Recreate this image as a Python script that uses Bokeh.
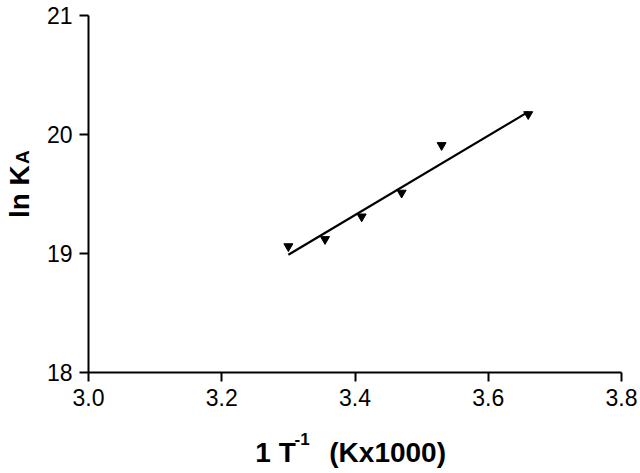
from bokeh.plotting import figure
from bokeh.models import Range1d, FixedTicker, NumeralTickFormatter, LinearAxis
from bokeh.embed import file_html
from bokeh.resources import INLINE

# ---- data ----
inv_temp = [3.30, 3.355, 3.41, 3.47, 3.53, 3.66]
ln_ka = [19.06, 19.12, 19.31, 19.51, 19.91, 20.17]
fit_x = [3.30, 3.66]
fit_y = [18.99, 20.19]
x_ticks = [3.0, 3.2, 3.4, 3.6, 3.8]
y_ticks = [18, 19, 20, 21]
x_title_main = "1 T"
x_title_sup = "-1"
x_title_unit = "(Kx1000)"
y_title_main = "ln K"
y_title_sub = "A"

FONT = "Liberation Sans"

p = figure(width=640, height=473, output_backend="svg", toolbar_location=None,
           x_range=Range1d(3.0, 3.8), y_range=Range1d(18, 21),
           min_border_left=88, min_border_right=19, min_border_top=15, min_border_bottom=101)
p.outline_line_color = None
p.xgrid.visible = False
p.ygrid.visible = False
p.background_fill_color = "white"
p.border_fill_color = "white"

for ax in (p.xaxis[0], p.yaxis[0]):
    ax.axis_line_color = "black"
    ax.axis_line_width = 2
    ax.major_tick_line_color = "black"
    ax.major_tick_line_width = 2
    ax.major_tick_out = 9
    ax.major_tick_in = 0
    ax.minor_tick_line_color = None
    ax.major_label_text_font = FONT
    ax.major_label_text_font_size = "23px"
    ax.major_label_text_color = "black"
    ax.axis_label = None

p.xaxis[0].ticker = FixedTicker(ticks=x_ticks)
p.xaxis[0].formatter = NumeralTickFormatter(format="0.0")
p.xaxis[0].major_label_standoff = 7
p.yaxis[0].ticker = FixedTicker(ticks=y_ticks)
p.yaxis[0].formatter = NumeralTickFormatter(format="0")
p.yaxis[0].major_label_standoff = 7


def title_axis(where, labels, size, standoff, orientation="horizontal"):
    """An axis that carries only text pieces of an axis title."""
    ticks = list(labels.keys())
    ax = LinearAxis(ticker=FixedTicker(ticks=ticks), major_label_overrides=labels,
                    axis_line_color=None, major_tick_line_color=None,
                    minor_tick_line_color=None, major_tick_out=0, major_tick_in=0,
                    minor_tick_out=0, minor_tick_in=0,
                    major_label_standoff=standoff,
                    major_label_orientation=orientation,
                    major_label_text_font=FONT, major_label_text_font_style="bold",
                    major_label_text_font_size=size, major_label_text_color="black")
    p.add_layout(ax, where)
    return ax

# x title: 1 T^-1 (Kx1000)  (positions along the axis, in axis units)
title_axis("below", {3.3205: x_title_sup}, "17px", 24)
title_axis("below", {3.2807: x_title_main, 3.4490: x_title_unit}, "28px", -11)
# y title: ln K_A
title_axis("left", {19.81: y_title_sub}, "19px", 10, orientation="vertical")
title_axis("left", {19.52: y_title_main}, "28px", -26, orientation="vertical")

p.line(fit_x, fit_y, line_color="black", line_width=2.2)
p.scatter(inv_temp, ln_ka, marker="inverted_triangle", size=9,
          fill_color="black", line_color="black")

open("out.html", "w").write(file_html(p, INLINE))
